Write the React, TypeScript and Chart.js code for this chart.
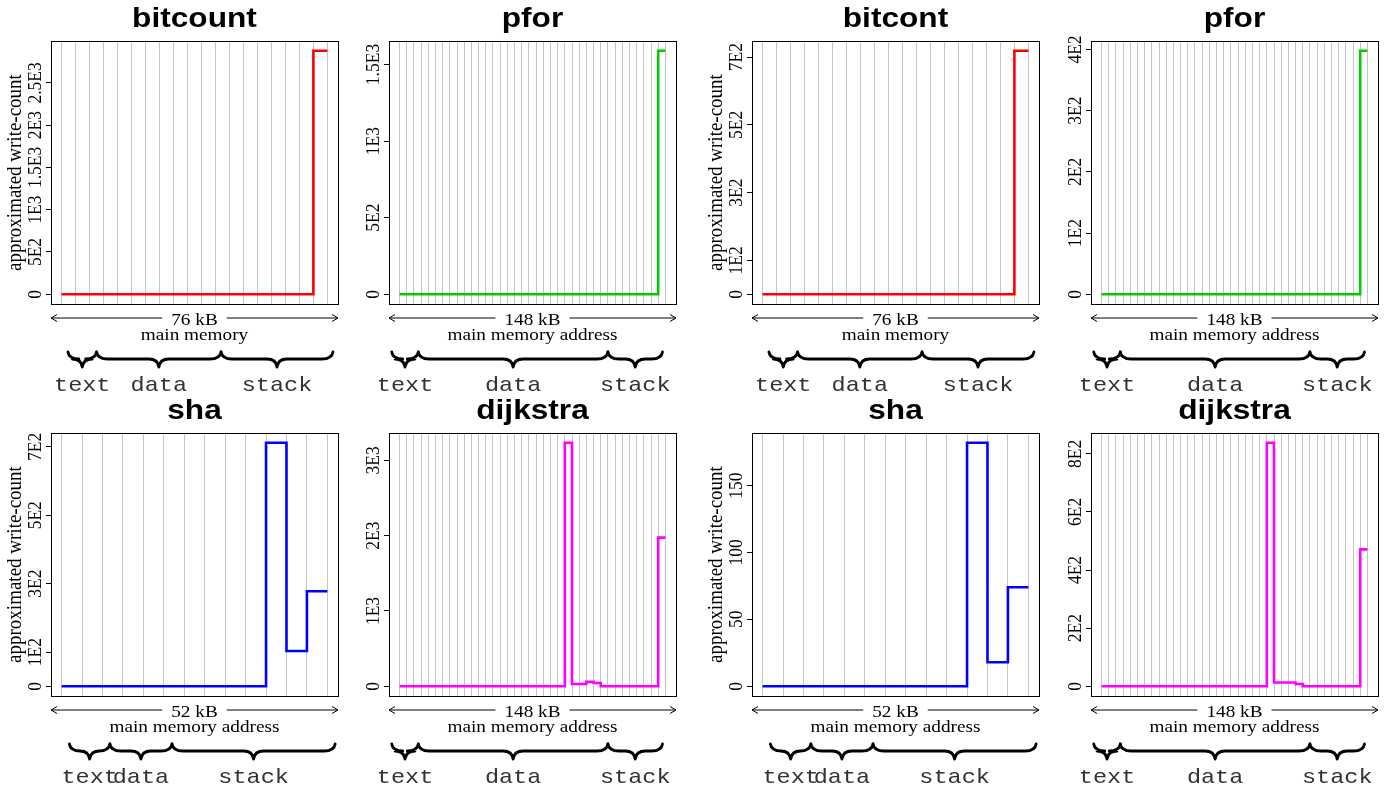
import React, { useEffect, useRef } from "react";
import { Chart, registerables } from "chart.js";

Chart.register(...registerables);

// ---------- data ----------
const segmentNames = ["text", "data", "stack"];

// segment boundaries (in page-index units of the x axis)
const segments76kB = [0.45, 2.5, 11.4, 19.4];
const segments148kB = [-1.1, 2.6, 29.0, 36.6];
const segments52kB = [0.38, 2.36, 5.4, 13.38];

// write counts per page (step levels)
const bitcountWrites = [0, 0, 0, 0, 0, 0, 0, 0, 0, 0, 0, 0, 0, 0, 0, 0, 0, 0, 0, 2880];
const pforWritesA = [
  0, 0, 0, 0, 0, 0, 0, 0, 0, 0, 0, 0, 0, 0, 0, 0, 0, 0, 0, 0,
  0, 0, 0, 0, 0, 0, 0, 0, 0, 0, 0, 0, 0, 0, 0, 0, 0, 1590,
];
const bitcontWrites = [0, 0, 0, 0, 0, 0, 0, 0, 0, 0, 0, 0, 0, 0, 0, 0, 0, 0, 0, 719];
const pforWritesB = [
  0, 0, 0, 0, 0, 0, 0, 0, 0, 0, 0, 0, 0, 0, 0, 0, 0, 0, 0, 0,
  0, 0, 0, 0, 0, 0, 0, 0, 0, 0, 0, 0, 0, 0, 0, 0, 0, 398,
];
const shaWritesA = [0, 0, 0, 0, 0, 0, 0, 0, 0, 0, 0, 712, 103, 278];
const dijkstraWritesA = [
  0, 0, 0, 0, 0, 0, 0, 0, 0, 0, 0, 0, 0, 0, 0, 0, 0, 0, 0, 0,
  0, 0, 0, 0, 3235, 31, 31, 58, 44, 0, 0, 0, 0, 0, 0, 0, 0, 1975,
];
const shaWritesB = [0, 0, 0, 0, 0, 0, 0, 0, 0, 0, 0, 182, 18, 74];
const dijkstraWritesB = [
  0, 0, 0, 0, 0, 0, 0, 0, 0, 0, 0, 0, 0, 0, 0, 0, 0, 0, 0, 0,
  0, 0, 0, 0, 838, 13, 13, 13, 8, 0, 0, 0, 0, 0, 0, 0, 0, 471,
];

// y tick values and labels
const bitcountTicks = [0, 500, 1000, 1500, 2000, 2500];
const bitcountTickLabels = ["0", "5E2", "1E3", "1.5E3", "2E3", "2.5E3"];
const pforTicksA = [0, 500, 1000, 1500];
const pforTickLabelsA = ["0", "5E2", "1E3", "1.5E3"];
const bitcontTicks = [0, 100, 300, 500, 700];
const bitcontTickLabels = ["0", "1E2", "3E2", "5E2", "7E2"];
const pforTicksB = [0, 100, 200, 300, 400];
const pforTickLabelsB = ["0", "1E2", "2E2", "3E2", "4E2"];
const shaTicksA = [0, 100, 300, 500, 700];
const shaTickLabelsA = ["0", "1E2", "3E2", "5E2", "7E2"];
const dijkstraTicksA = [0, 1000, 2000, 3000];
const dijkstraTickLabelsA = ["0", "1E3", "2E3", "3E3"];
const shaTicksB = [0, 50, 100, 150];
const shaTickLabelsB = ["0", "50", "100", "150"];
const dijkstraTicksB = [0, 200, 400, 600, 800];
const dijkstraTickLabelsB = ["0", "2E2", "4E2", "6E2", "8E2"];

const Y_TITLE = "approximated write-count";

type Panel = {
  title: string;
  values: number[];
  color: string;
  ticks: number[];
  tickLabels: string[];
  size: string;
  xTitle: string;
  segments: number[];
  col: number;
  row: number;
  yTitle: boolean;
};

const RED = "#ff0000";
const GREEN = "#00cd00";
const BLUE = "#0000ff";
const MAGENTA = "#ff00ff";

const PANELS: Panel[] = [
  { title: "bitcount", values: bitcountWrites, color: RED, ticks: bitcountTicks, tickLabels: bitcountTickLabels, size: "76 kB", xTitle: "main memory", segments: segments76kB, col: 0, row: 0, yTitle: true },
  { title: "pfor", values: pforWritesA, color: GREEN, ticks: pforTicksA, tickLabels: pforTickLabelsA, size: "148 kB", xTitle: "main memory address", segments: segments148kB, col: 1, row: 0, yTitle: false },
  { title: "bitcont", values: bitcontWrites, color: RED, ticks: bitcontTicks, tickLabels: bitcontTickLabels, size: "76 kB", xTitle: "main memory", segments: segments76kB, col: 2, row: 0, yTitle: true },
  { title: "pfor", values: pforWritesB, color: GREEN, ticks: pforTicksB, tickLabels: pforTickLabelsB, size: "148 kB", xTitle: "main memory address", segments: segments148kB, col: 3, row: 0, yTitle: false },
  { title: "sha", values: shaWritesA, color: BLUE, ticks: shaTicksA, tickLabels: shaTickLabelsA, size: "52 kB", xTitle: "main memory address", segments: segments52kB, col: 0, row: 1, yTitle: true },
  { title: "dijkstra", values: dijkstraWritesA, color: MAGENTA, ticks: dijkstraTicksA, tickLabels: dijkstraTickLabelsA, size: "148 kB", xTitle: "main memory address", segments: segments148kB, col: 1, row: 1, yTitle: false },
  { title: "sha", values: shaWritesB, color: BLUE, ticks: shaTicksB, tickLabels: shaTickLabelsB, size: "52 kB", xTitle: "main memory address", segments: segments52kB, col: 2, row: 1, yTitle: true },
  { title: "dijkstra", values: dijkstraWritesB, color: MAGENTA, ticks: dijkstraTicksB, tickLabels: dijkstraTickLabelsB, size: "148 kB", xTitle: "main memory address", segments: segments148kB, col: 3, row: 1, yTitle: false },
];

// ---------- layout ----------
const PLOT_LEFTS = [51, 389, 752, 1091];
const PLOT_TOPS = [41, 433];
const PAD = { left: 51, top: 41, right: 9, bottom: 88 };
const CW = 347;
const CH = 392;
const SX = 1.1;

const SERIF = '"Liberation Serif", "Times New Roman", serif';
const SANS = '"Liberation Sans", Arial, Helvetica, sans-serif';
const MONO = '"Liberation Mono", "Courier New", monospace';

function sText(ctx: CanvasRenderingContext2D, txt: string, x: number, y: number, sx: number) {
  ctx.save();
  ctx.translate(x, y);
  ctx.scale(sx, 1);
  ctx.fillText(txt, 0, 0);
  ctx.restore();
}

function brace(ctx: CanvasRenderingContext2D, x1: number, x2: number, yTop: number, yBody: number, yTip: number) {
  const xm = (x1 + x2) / 2;
  const r = 11;
  const rm = 10;
  ctx.beginPath();
  ctx.moveTo(x1, yTop);
  ctx.quadraticCurveTo(x1 + 1, yBody, x1 + r, yBody);
  ctx.lineTo(xm - rm, yBody);
  ctx.quadraticCurveTo(xm - 1, yBody, xm, yTip);
  ctx.quadraticCurveTo(xm + 1, yBody, xm + rm, yBody);
  ctx.lineTo(x2 - r, yBody);
  ctx.quadraticCurveTo(x2 - 1, yBody, x2, yTop);
  ctx.stroke();
}

function makeAnnotPlugin(p: Panel) {
  return {
    id: "annot",
    afterDraw(chart: any) {
      const ctx: CanvasRenderingContext2D = chart.ctx;
      const a = chart.chartArea;
      const xs = chart.scales.x;
      const ys = chart.scales.y;
      const cx = (a.left + a.right) / 2;
      ctx.save();
      ctx.fillStyle = "#000";
      ctx.strokeStyle = "#000";

      // box
      ctx.lineWidth = 1;
      ctx.strokeRect(Math.round(a.left) + 0.5, Math.round(a.top) + 0.5, Math.round(a.right - a.left), Math.round(a.bottom - a.top));

      // title
      ctx.font = `bold 28px ${SANS}`;
      ctx.textAlign = "center";
      ctx.textBaseline = "alphabetic";
      sText(ctx, p.title, cx, a.top - 14, 1.13);

      // y tick labels (rotated)
      ctx.font = `17.5px ${SERIF}`;
      ctx.textBaseline = "middle";
      p.ticks.forEach((v, i) => {
        const py = ys.getPixelForValue(v);
        ctx.save();
        ctx.translate(a.left - 15, py);
        ctx.rotate(-Math.PI / 2);
        ctx.scale(1, SX);
        ctx.fillText(p.tickLabels[i], 0, 0);
        ctx.restore();
      });

      // y title
      if (p.yTitle) {
        ctx.font = `19px ${SERIF}`;
        ctx.save();
        ctx.translate(a.left - 35.5, (a.top + a.bottom) / 2);
        ctx.rotate(-Math.PI / 2);
        ctx.scale(1, SX);
        ctx.fillText(Y_TITLE, 0, 0);
        ctx.restore();
      }

      // size arrow
      ctx.font = `17.5px ${SERIF}`;
      ctx.textBaseline = "alphabetic";
      const ay = a.bottom + 14;
      const tw = ctx.measureText(p.size).width * SX;
      const gap = tw / 2 + 9;
      ctx.lineWidth = 1;
      ctx.beginPath();
      ctx.moveTo(a.left, ay);
      ctx.lineTo(cx - gap, ay);
      ctx.moveTo(cx + gap, ay);
      ctx.lineTo(a.right, ay);
      ctx.moveTo(a.left + 6, ay - 3.5);
      ctx.lineTo(a.left, ay);
      ctx.lineTo(a.left + 6, ay + 3.5);
      ctx.moveTo(a.right - 6, ay - 3.5);
      ctx.lineTo(a.right, ay);
      ctx.lineTo(a.right - 6, ay + 3.5);
      ctx.stroke();
      sText(ctx, p.size, cx, a.bottom + 21, SX);

      // x title
      sText(ctx, p.xTitle, cx, a.bottom + 36, SX);

      // braces + segment labels
      ctx.lineWidth = 2.8;
      ctx.lineJoin = "round";
      ctx.lineCap = "round";
      for (let i = 0; i < segmentNames.length; i++) {
        const x1 = xs.getPixelForValue(p.segments[i]);
        const x2 = xs.getPixelForValue(p.segments[i + 1]);
        ctx.strokeStyle = "#000";
        brace(ctx, x1, x2, a.bottom + 48, a.bottom + 55, a.bottom + 63);
      }
      ctx.font = `21px ${MONO}`;
      ctx.fillStyle = "#333";
      for (let i = 0; i < segmentNames.length; i++) {
        const x1 = xs.getPixelForValue(p.segments[i]);
        const x2 = xs.getPixelForValue(p.segments[i + 1]);
        sText(ctx, segmentNames[i], (x1 + x2) / 2, a.bottom + 87, 1.12);
      }
      ctx.restore();
    },
  };
}

function PanelChart({ p }: { p: Panel }) {
  const ref = useRef<HTMLCanvasElement | null>(null);
  useEffect(() => {
    if (!ref.current) return;
    const n = p.values.length;
    const maxV = Math.max(...p.values);
    const xTicks = p.values.map((_, i) => i);
    const chart = new Chart(ref.current, {
      type: "line",
      data: {
        datasets: [
          {
            data: p.values.map((v, i) => ({ x: i, y: v })),
            borderColor: p.color,
            borderWidth: 2.6,
            pointRadius: 0,
            stepped: "after",
            fill: false,
            tension: 0,
            borderCapStyle: "butt",
            borderJoinStyle: "miter",
          } as any,
        ],
      },
      options: {
        animation: false,
        responsive: false,
        devicePixelRatio: 1,
        events: [],
        layout: { padding: PAD },
        plugins: { legend: { display: false }, title: { display: false }, tooltip: { enabled: false } },
        scales: {
          x: {
            type: "linear",
            min: -0.04 * (n - 1),
            max: 1.04 * (n - 1),
            afterFit: (s: any) => {
              s.height = 0;
            },
            afterBuildTicks: (s: any) => {
              s.ticks = xTicks.map((v) => ({ value: v }));
            },
            ticks: { display: false },
            grid: { color: "#c4c4c4", lineWidth: 1, drawTicks: false, drawOnChartArea: true },
            border: { display: false },
          },
          y: {
            type: "linear",
            min: -0.04 * maxV,
            max: 1.04 * maxV,
            afterFit: (s: any) => {
              s.width = 0;
            },
            afterBuildTicks: (s: any) => {
              s.ticks = p.ticks.map((v) => ({ value: v }));
            },
            ticks: { display: false },
            grid: { drawOnChartArea: false, drawTicks: true, tickLength: 5, color: "#000", lineWidth: 1 },
            border: { display: false },
          },
        },
      } as any,
      plugins: [makeAnnotPlugin(p)],
    });
    return () => chart.destroy();
  }, [p]);
  const left = PLOT_LEFTS[p.col] - PAD.left;
  const top = PLOT_TOPS[p.row] - PAD.top;
  return (
    <canvas
      ref={ref}
      width={CW}
      height={CH}
      style={{ position: "absolute", left, top, width: CW, height: CH }}
    />
  );
}

export default function App() {
  return (
    <div style={{ position: "fixed", left: 0, top: 0, width: 1390, height: 791, background: "#fff", overflow: "hidden" }}>
      {PANELS.map((p, i) => (
        <PanelChart key={i} p={p} />
      ))}
    </div>
  );
}
